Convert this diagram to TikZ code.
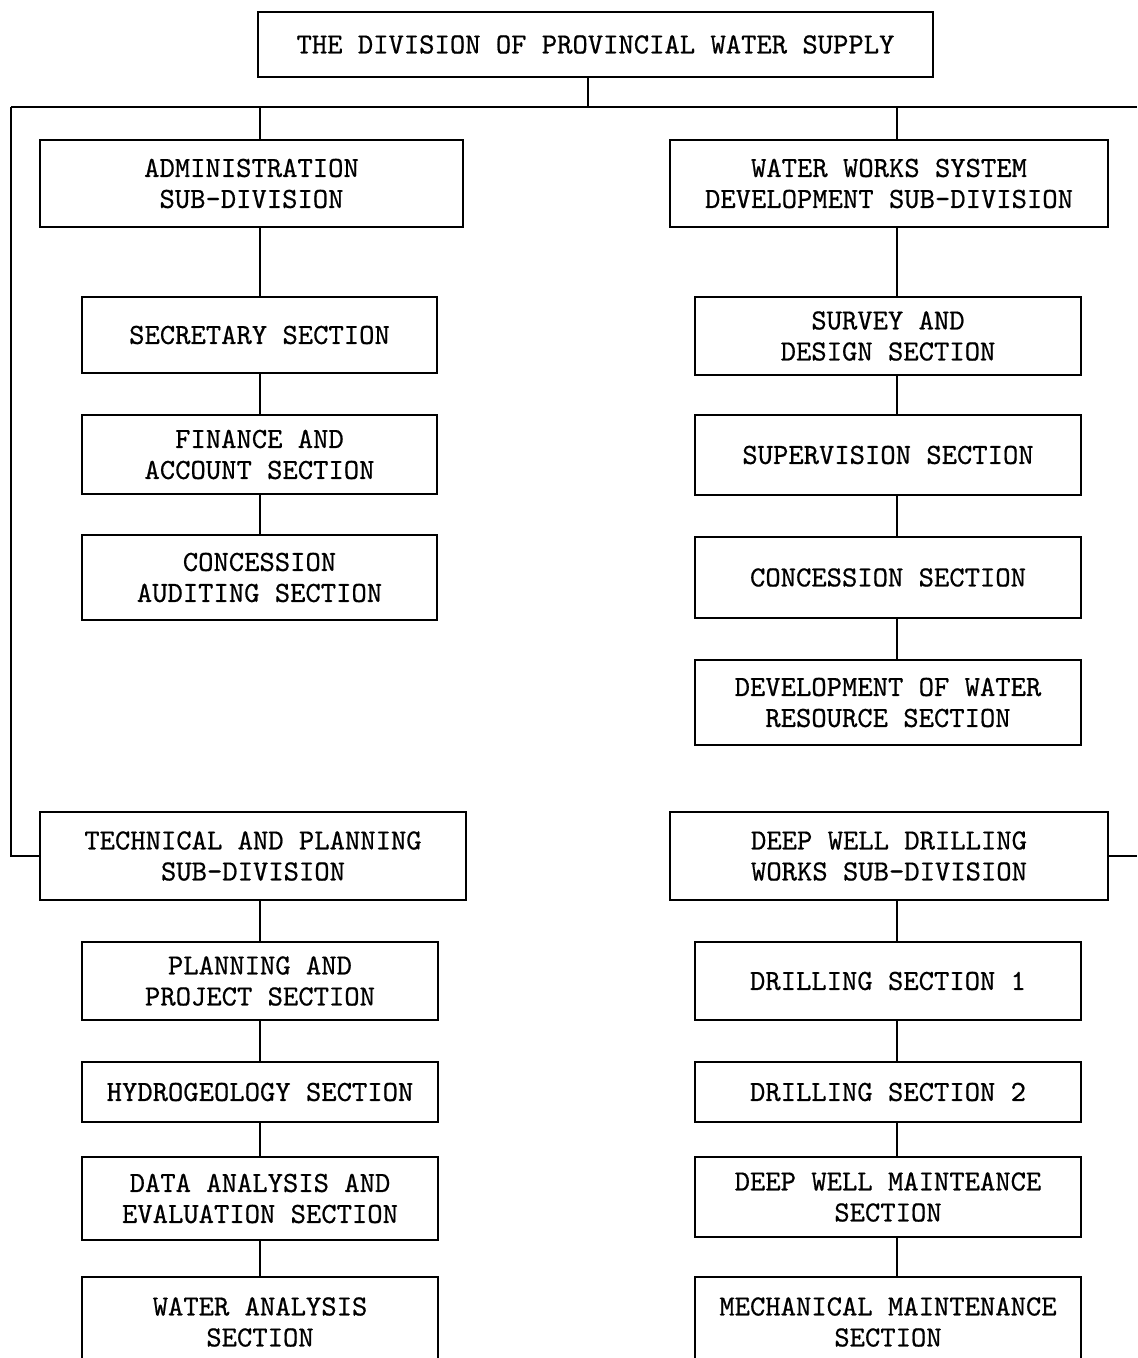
\documentclass[tikz,border=0pt]{standalone}
\usepackage{fontspec}
\newfontfamily\typefont[FakeBold=0.6]{lmmono10-regular.otf}
\begin{document}
\begin{tikzpicture}[x=0.5pt,y=-0.5pt,
  box/.style={draw, line width=1.3pt, inner sep=0pt, align=center,
    font=\typefont\fontsize{14.6}{15.5}\selectfont},
  conn/.style={line width=1pt}]
\newcommand\bx[6]{\node[box, minimum width={(#4-#2)*0.5pt}, minimum height={(#5-#3)*0.5pt}] (#1) at ({(#2+#4)/2},{(#3+#5)/2}) {#6};}
\clip (0,0) rectangle (1137,1358);
\fill[white] (0,0) rectangle (1137,1358);
% boxes
\bx{top}{258}{12}{933}{77}{THE DIVISION OF PROVINCIAL WATER SUPPLY}
\bx{admin}{40}{140}{463}{227}{ADMINISTRATION\\ SUB-DIVISION}
\bx{wws}{670}{140}{1108}{227}{WATER WORKS SYSTEM\\DEVELOPMENT SUB-DIVISION}
\bx{sec}{82}{297}{437}{373}{SECRETARY SECTION}
\bx{fin}{82}{415}{437}{494}{FINANCE AND\\ACCOUNT SECTION}
\bx{cau}{82}{535}{437}{620}{CONCESSION\\AUDITING SECTION}
\bx{sd}{695}{297}{1081}{375}{SURVEY AND\\DESIGN SECTION}
\bx{sup}{695}{415}{1081}{495}{SUPERVISION SECTION}
\bx{con}{695}{537}{1081}{618}{CONCESSION SECTION}
\bx{dwr}{695}{660}{1081}{745}{DEVELOPMENT OF WATER\\RESOURCE SECTION}
\bx{tech}{40}{812}{466}{900}{TECHNICAL AND PLANNING\\SUB-DIVISION}
\bx{dwd}{670}{812}{1108}{900}{DEEP WELL DRILLING\\WORKS SUB-DIVISION}
\bx{plan}{82}{942}{438}{1020}{PLANNING AND\\PROJECT SECTION}
\bx{hyd}{82}{1062}{438}{1122}{HYDROGEOLOGY SECTION}
\bx{data}{82}{1157}{438}{1240}{DATA ANALYSIS AND\\EVALUATION SECTION}
\bx{wan}{82}{1277}{438}{1367}{WATER ANALYSIS\\SECTION}
\bx{dr1}{695}{942}{1081}{1020}{DRILLING SECTION 1}
\bx{dr2}{695}{1062}{1081}{1122}{DRILLING SECTION 2}
\bx{dwm}{695}{1157}{1081}{1237}{DEEP WELL MAINTEANCE\\SECTION}
\bx{mech}{695}{1277}{1081}{1367}{MECHANICAL MAINTENANCE\\SECTION}
% reference coordinates
\coordinate (bus) at (588,107);
\coordinate (busL) at (11,107);
\coordinate (busR) at (1137,107);
\coordinate (colA) at (260,0);
\coordinate (colB) at (897,0);
% connectors
\draw[conn] (bus |- top.south) -- (bus);
\draw[conn] (busL) -- (busR);
\draw[conn] (colA |- busL) -- (colA |- admin.north);
\draw[conn] (colB |- busL) -- (colB |- wws.north);
\draw[conn] (busL) -- (busL |- tech.west) -- (tech.west);
\draw[conn] (dwd.east) -- (dwd.east -| busR);
\draw[conn] (colA |- admin.south) -- (colA |- sec.north);
\draw[conn] (colA |- sec.south) -- (colA |- fin.north);
\draw[conn] (colA |- fin.south) -- (colA |- cau.north);
\draw[conn] (colB |- wws.south) -- (colB |- sd.north);
\draw[conn] (colB |- sd.south) -- (colB |- sup.north);
\draw[conn] (colB |- sup.south) -- (colB |- con.north);
\draw[conn] (colB |- con.south) -- (colB |- dwr.north);
\draw[conn] (colA |- tech.south) -- (colA |- plan.north);
\draw[conn] (colA |- plan.south) -- (colA |- hyd.north);
\draw[conn] (colA |- hyd.south) -- (colA |- data.north);
\draw[conn] (colA |- data.south) -- (colA |- wan.north);
\draw[conn] (colB |- dwd.south) -- (colB |- dr1.north);
\draw[conn] (colB |- dr1.south) -- (colB |- dr2.north);
\draw[conn] (colB |- dr2.south) -- (colB |- dwm.north);
\draw[conn] (colB |- dwm.south) -- (colB |- mech.north);
\end{tikzpicture}
\end{document}
